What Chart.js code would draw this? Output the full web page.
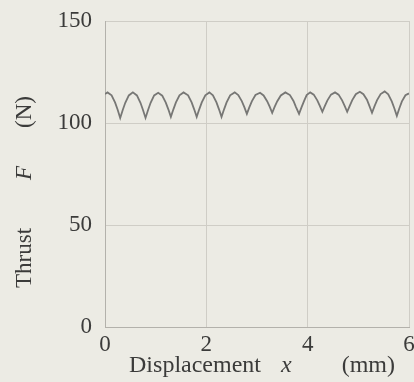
<!DOCTYPE html>
<html><head><meta charset="utf-8">
<script src="https://cdn.jsdelivr.net/npm/chart.js@4"></script>
<style>html,body{margin:0;padding:0;background:#ecebe4}#wrap{width:414px;height:382px;position:relative}</style>
</head><body><div id="wrap"><canvas id="c" width="414" height="382"></canvas></div>
<script>
// Data (displacement in mm, thrust in N)
const displacement = [
  0.00,0.05,0.13,0.20,0.25,
  0.30,0.35,0.40,0.47,0.55,0.63,0.70,0.75,
  0.80,0.85,0.90,0.97,1.05,1.13,1.20,1.25,
  1.30,1.35,1.40,1.47,1.55,1.64,1.71,1.76,
  1.81,1.86,1.91,1.98,2.06,2.13,2.20,2.25,
  2.30,2.35,2.40,2.47,2.56,2.63,2.70,2.75,
  2.80,2.85,2.90,2.97,3.06,3.13,3.20,3.25,
  3.30,3.35,3.40,3.47,3.56,3.65,3.72,3.77,
  3.83,3.88,3.93,3.98,4.05,4.12,4.19,4.24,
  4.29,4.34,4.39,4.46,4.54,4.61,4.68,4.73,
  4.78,4.83,4.88,4.95,5.03,5.10,5.17,5.22,
  5.27,5.32,5.37,5.44,5.52,5.59,5.66,5.71,
  5.76,5.81,5.86,5.93,6.00
];
const thrust = [
  114.2,115.0,113.6,110.0,106.5,
  102.5,106.4,109.9,113.5,115.0,113.5,109.9,106.4,
  102.5,106.4,109.9,113.5,114.8,113.4,110.0,106.7,
  103.0,106.7,110.1,113.6,115.0,113.6,110.1,106.7,
  103.0,106.7,110.1,113.6,115.0,113.6,110.1,106.7,
  103.0,106.7,110.1,113.6,115.0,113.7,110.7,107.8,
  104.5,107.8,110.7,113.7,114.8,113.5,110.7,108.0,
  105.0,108.0,110.7,113.5,115.0,113.7,110.8,107.8,
  104.5,107.8,110.8,113.7,115.0,113.9,111.1,108.4,
  105.5,108.4,111.1,113.9,115.0,113.9,111.1,108.4,
  105.5,108.4,111.2,114.1,115.3,114.1,111.4,108.3,
  105.0,108.3,111.2,114.2,115.5,114.1,110.6,107.2,
  103.5,107.2,110.6,113.6,114.5
];
const xTickValues = [0, 2, 4, 6];
const yTickValues = [0, 50, 100, 150];
const xTitleParts = ['Displacement', 'x', '(mm)'];
const yTitleParts = ['Thrust', 'F', '(N)'];

const TEXT = '#3b3b3a';
const FONT_FAMILY = '"Liberation Serif", "Times New Roman", serif';

const titlePlugin = {
  id: 'axisTitles',
  afterDraw(chart) {
    const ctx = chart.ctx, a = chart.chartArea;
    ctx.save();
    ctx.fillStyle = TEXT;
    ctx.textBaseline = 'alphabetic';
    ctx.textAlign = 'left';
    // x title
    const xf = ['24px ' + FONT_FAMILY, 'italic 24px ' + FONT_FAMILY, '24px ' + FONT_FAMILY];
    const xg = [20, 50];
    let widths = xTitleParts.map((t, i) => { ctx.font = xf[i]; return ctx.measureText(t).width; });
    let total = widths.reduce((s, w) => s + w, 0) + xg[0] + xg[1];
    let x = (a.left + a.right) / 2 + 5 - total / 2;
    const yb = a.bottom + 45;
    xTitleParts.forEach((t, i) => { ctx.font = xf[i]; ctx.fillText(t, x, yb); x += widths[i] + (xg[i] || 0); });
    // y title (rotated)
    const yf = ['23px ' + FONT_FAMILY, 'italic 23px ' + FONT_FAMILY, '23px ' + FONT_FAMILY];
    const yg = [48, 38];
    ctx.translate(31, a.bottom - 39);
    ctx.rotate(-Math.PI / 2);
    let p = 0;
    yTitleParts.forEach((t, i) => { ctx.font = yf[i]; const w = ctx.measureText(t).width; ctx.fillText(t, p, 0); p += w + (yg[i] || 0); });
    ctx.restore();
  }
};

new Chart(document.getElementById('c'), {
  type: 'line',
  data: {
    datasets: [{
      data: displacement.map((d, i) => ({ x: d, y: thrust[i] })),
      borderColor: '#777775',
      borderWidth: 1.8,
      pointRadius: 0,
      tension: 0,
      fill: false
    }]
  },
  options: {
    responsive: false,
    animation: false,
    events: [],
    layout: { padding: { top: 21, right: 5, left: 0, bottom: 0 } },
    plugins: { legend: { display: false }, tooltip: { enabled: false } },
    scales: {
      x: {
        type: 'linear', min: 0, max: 6,
        afterBuildTicks(s) { s.ticks = xTickValues.map(v => ({ value: v })); },
        afterFit(s) { s.height = 55; s.paddingLeft = 0; s.paddingRight = 0; },
        grid: { color: '#cfcdc6', lineWidth: 1, drawTicks: false },
        border: { color: '#b3b1ab', width: 1 },
        ticks: { color: TEXT, font: { family: FONT_FAMILY, size: 23 }, padding: 4, maxRotation: 0, autoSkip: false }
      },
      y: {
        min: 0, max: 150,
        afterBuildTicks(s) { s.ticks = yTickValues.map(v => ({ value: v })); },
        afterFit(s) { s.width = 105; s.paddingTop = 0; s.paddingBottom = 0; },
        grid: { color: '#cfcdc6', lineWidth: 1, drawTicks: false },
        border: { color: '#b3b1ab', width: 1 },
        ticks: { color: TEXT, font: { family: FONT_FAMILY, size: 23 }, padding: 13 }
      }
    }
  },
  plugins: [titlePlugin]
});
</script>
</body></html>
